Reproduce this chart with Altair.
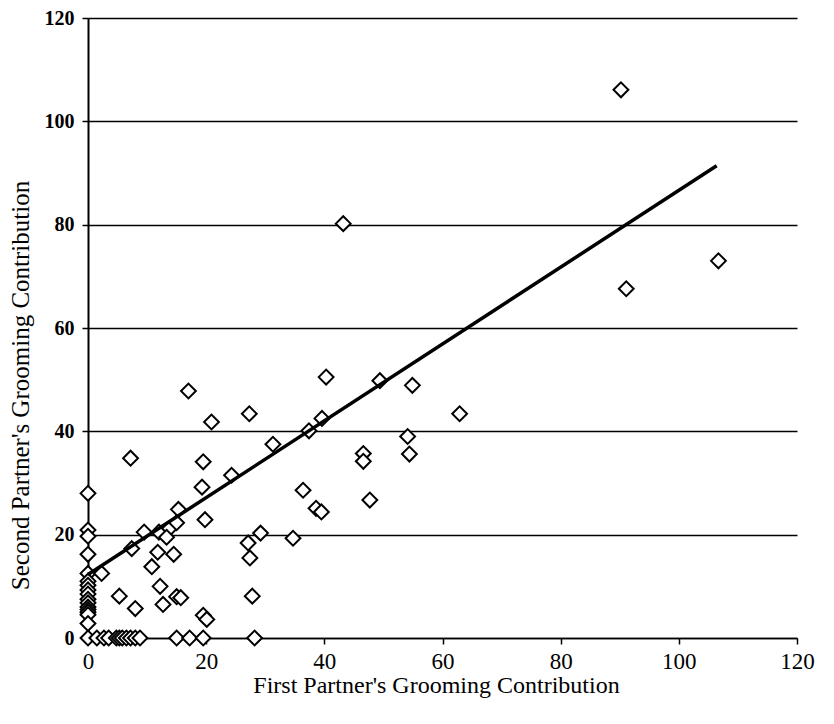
import altair as alt
import pandas as pd

# Scatter data (first partner, second partner grooming contribution)
first = [0, 0, 0, 0, 0, 0, 0, 0, 0, 0, 0, 0, 0, 0, 0, 0, 0,
         1.5, 2.7, 3.5, 4.8, 5.3, 5.8, 6.5, 7.2, 8.0, 8.8, 15.0, 17.2, 19.5, 28.2,
         2.3, 12.2, 5.3, 15.0, 15.7, 8.0, 12.7, 19.5, 20.1, 27.8,
         9.5, 12.0, 13.8, 15.0, 13.3, 15.3, 7.4, 11.8, 14.5, 10.8,
         7.2, 17.0, 20.9, 19.5, 19.3, 19.8, 24.3, 27.3,
         27.1, 27.4, 29.2, 34.7, 31.3, 37.4, 39.6, 40.3, 36.4, 38.6, 39.5, 47.7,
         46.6, 46.6, 49.4, 54.9, 62.9, 54.1, 54.4,
         43.2, 90.2, 91.1, 106.7]
second = [28.0, 20.9, 19.7, 16.2, 12.5, 11.0, 10.2, 9.3, 8.5, 7.5, 6.8, 6.0, 5.5, 5.0, 4.5, 2.8, 0,
          0, 0, 0, 0, 0, 0, 0, 0, 0, 0, 0, 0, 0, 0,
          12.5, 10.0, 8.1, 8.0, 7.8, 5.7, 6.5, 4.4, 3.6, 8.1,
          20.5, 20.5, 21.2, 22.3, 19.5, 24.9, 17.3, 16.6, 16.2, 13.8,
          34.8, 47.8, 41.8, 34.1, 29.2, 22.9, 31.5, 43.4,
          18.4, 15.5, 20.3, 19.3, 37.5, 40.1, 42.5, 50.5, 28.6, 25.1, 24.4, 26.7,
          35.7, 34.2, 49.8, 48.9, 43.4, 39.0, 35.6,
          80.2, 106.1, 67.6, 73.0]

# Trend line end points
line_x = [0, 106.4]
line_y = [12.3, 91.4]

ticks = [0, 20, 40, 60, 80, 100, 120]

pts = pd.DataFrame({"first": first, "second": second})
ln = pd.DataFrame({"first": line_x, "second": line_y})

xscale = alt.Scale(domain=[0, 120], nice=False, zero=False)
yscale = alt.Scale(domain=[0, 120], nice=False, zero=False)

xaxis = alt.Axis(
    title="First Partner's Grooming Contribution",
    values=ticks, grid=False, labelFlush=False,
    domainColor="black", domainWidth=1.5,
    tickColor="black", tickWidth=1.5, tickSize=6,
    labelFont="Liberation Serif", labelFontSize=23, labelColor="black",
    labelPadding=6,
    titleFont="Liberation Serif", titleFontSize=24, titleFontWeight="normal",
    titleColor="black", titleX=348, titleY=47, titleBaseline="middle",
    titleAlign="center",
)
yaxis = alt.Axis(
    title="Second Partner's Grooming Contribution",
    values=ticks, grid=True, gridColor="black", gridWidth=1.5, gridOpacity=1,
    labelFlush=False,
    domainColor="black", domainWidth=2,
    tickColor="black", tickWidth=1.5, tickSize=6,
    labelFont="Liberation Serif", labelFontSize=20, labelFontWeight="bold",
    labelColor="black", labelPadding=8,
    titleFont="Liberation Serif", titleFontSize=25, titleFontWeight="normal",
    titleColor="black", titleX=-68, titleY=367, titleBaseline="middle",
    titleAlign="center", titleAngle=270,
)

points = alt.Chart(pts).mark_point(
    shape="diamond", filled=True, fill="white", stroke="black",
    strokeWidth=2, size=220, opacity=1,
).encode(
    x=alt.X("first:Q", scale=xscale, axis=xaxis),
    y=alt.Y("second:Q", scale=yscale, axis=yaxis),
)

trend = alt.Chart(ln).mark_line(color="black", strokeWidth=3.5).encode(
    x=alt.X("first:Q", scale=xscale),
    y=alt.Y("second:Q", scale=yscale),
)

chart = alt.layer(points, trend).properties(
    width=709, height=620,
    autosize=alt.AutoSizeParams(type="none"),
    padding={"left": 80, "top": 10, "right": 29, "bottom": 78},
    background="white",
).configure_view(stroke=None)

chart.save("out.html", embed_options={"renderer": "svg", "actions": False})
